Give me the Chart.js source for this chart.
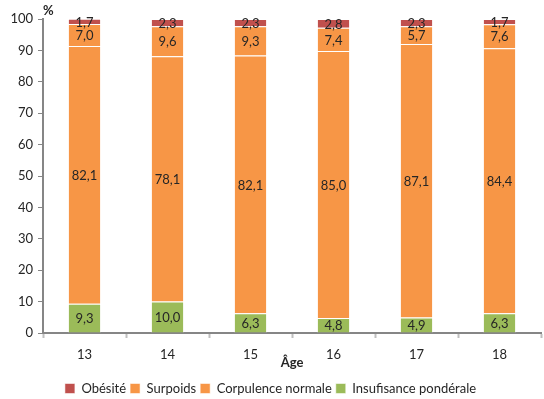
<!DOCTYPE html>
<html>
<head>
<meta charset="utf-8">
<script src="https://cdn.jsdelivr.net/npm/chart.js@4/dist/chart.umd.min.js"></script>
<style>
  html, body { margin: 0; padding: 0; background: #fff; }
  #wrap { width: 544px; height: 399px; }
</style>
</head>
<body>
<div id="wrap"><canvas id="corpulence" width="544" height="399"></canvas></div>
<script>
const ages = ['13', '14', '15', '16', '17', '18'];
const insuffisance = [9.3, 10.0, 6.3, 4.8, 4.9, 6.3];
const normale = [82.1, 78.1, 82.1, 85.0, 87.1, 84.4];
const surpoids = [7.0, 9.6, 9.3, 7.4, 5.7, 7.6];
const obesite = [1.7, 2.3, 2.3, 2.8, 2.3, 1.7];
const yTicks = [0, 10, 20, 30, 40, 50, 60, 70, 80, 90, 100];

const FONT = 'Lato, "Open Sans", sans-serif';
const TXT = '#262626';
const AXIS = '#868686';

// writes each value in the middle of its segment, french decimals
const segmentLabels = {
  id: 'segmentLabels',
  afterDatasetsDraw(chart) {
    const ctx = chart.ctx;
    ctx.save();
    ctx.font = '13px ' + FONT;
    ctx.fillStyle = TXT;
    ctx.textAlign = 'center';
    ctx.textBaseline = 'middle';
    chart.data.datasets.forEach((ds, i) => {
      chart.getDatasetMeta(i).data.forEach((bar, j) => {
        const v = ds.data[j];
        ctx.fillText(v.toFixed(1).replace('.', ','), bar.x, (bar.y + bar.base) / 2 + 1);
      });
    });
    // unit above the y axis
    ctx.font = 'bold 13px ' + FONT;
    ctx.textAlign = 'left';
    ctx.fillText('%', chart.chartArea.left, 11);
    ctx.restore();
  }
};

const seg = (label, data, color) => ({
  label, data,
  backgroundColor: color,
  borderColor: 'rgba(255,255,255,0.55)',
  borderWidth: 1,
  borderSkipped: 'start'
});

new Chart(document.getElementById('corpulence'), {
  type: 'bar',
  data: {
    labels: ages,
    datasets: [
      seg('Insufisance pondérale', insuffisance, '#9BBB59'),
      seg('Corpulence normale', normale, '#F79646'),
      seg('Surpoids', surpoids, '#F79646'),
      seg('Obésité', obesite, '#C0504D')
    ]
  },
  options: {
    responsive: false,
    animation: false,
    categoryPercentage: 1,
    barPercentage: 0.4,
    layout: { padding: { top: 19, right: 3, left: 0, bottom: -6 } },
    plugins: {
      tooltip: { enabled: false },
      legend: {
        position: 'bottom',
        reverse: true,
        labels: {
          font: { family: FONT, size: 13 },
          color: TXT,
          boxWidth: 10,
          boxHeight: 10,
          padding: 4
        }
      }
    },
    scales: {
      x: {
        stacked: true,
        afterFit: s => { s.height = 45; },
        border: { color: AXIS, width: 2 },
        grid: { offset: true, drawOnChartArea: false, tickLength: 5, color: '#bfbfbf', tickWidth: 2 },
        ticks: { font: { family: FONT, size: 13 }, color: TXT, padding: 9 },
        title: {
          display: true,
          text: 'Âge',
          font: { family: FONT, size: 13, weight: 'bold' },
          color: TXT,
          padding: { top: 0, bottom: 7 }
        }
      },
      y: {
        stacked: true,
        min: 0,
        max: 100,
        afterFit: s => { s.width = 43; },
        afterBuildTicks: s => { s.ticks = yTicks.map(v => ({ value: v })); },
        border: { color: AXIS, width: 2 },
        grid: { drawOnChartArea: false, tickLength: 5, color: AXIS },
        ticks: { font: { family: FONT, size: 13 }, color: TXT, padding: 5 }
      }
    }
  },
  plugins: [segmentLabels]
});
</script>
</body>
</html>
